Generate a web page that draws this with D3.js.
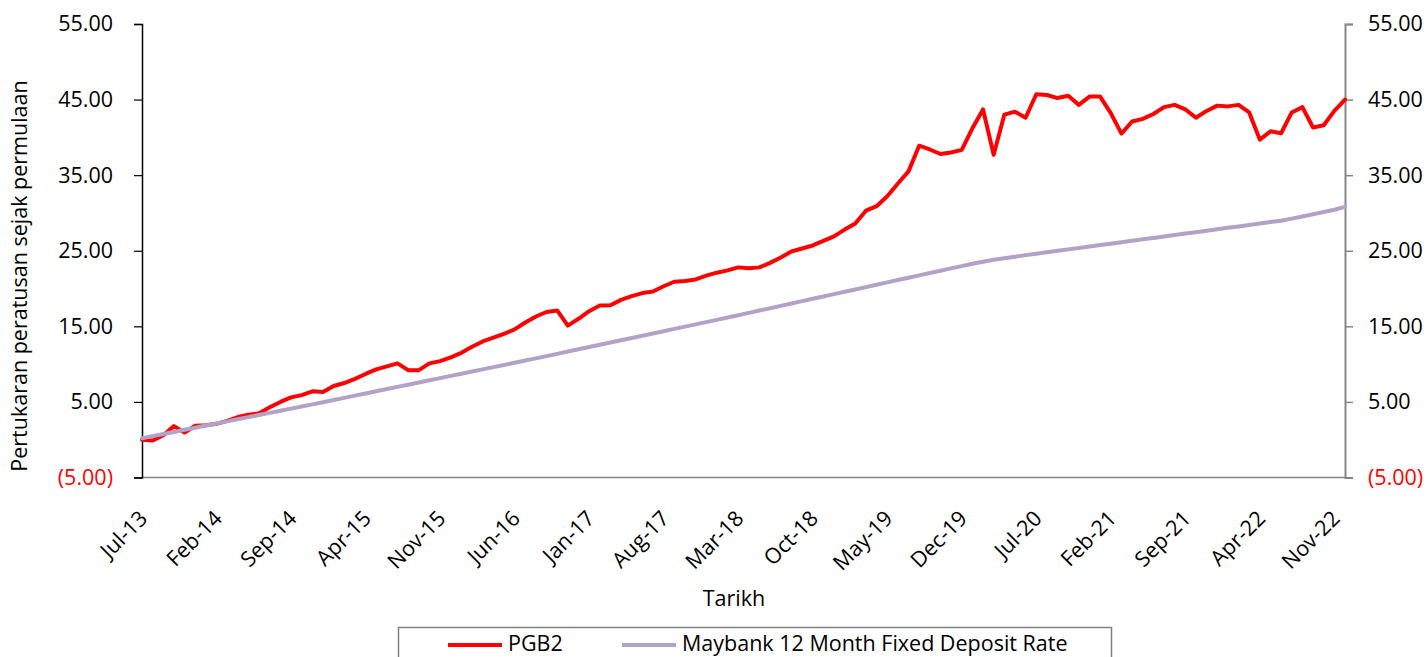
<!DOCTYPE html>
<html>
<head>
<meta charset="utf-8">
<script src="https://cdn.jsdelivr.net/npm/d3@7"></script>
<style>
  html, body { margin: 0; padding: 0; background: #fff; }
  svg { display: block; }
  text { font-family: "Open Sans", "Lato", sans-serif; }
</style>
</head>
<body>
<svg id="chart" width="1428" height="657"></svg>
<script>
const months = [
  "Jul-13","Aug-13","Sep-13","Oct-13","Nov-13","Dec-13",
  "Jan-14","Feb-14","Mar-14","Apr-14","May-14","Jun-14","Jul-14","Aug-14","Sep-14","Oct-14","Nov-14","Dec-14",
  "Jan-15","Feb-15","Mar-15","Apr-15","May-15","Jun-15","Jul-15","Aug-15","Sep-15","Oct-15","Nov-15","Dec-15",
  "Jan-16","Feb-16","Mar-16","Apr-16","May-16","Jun-16","Jul-16","Aug-16","Sep-16","Oct-16","Nov-16","Dec-16",
  "Jan-17","Feb-17","Mar-17","Apr-17","May-17","Jun-17","Jul-17","Aug-17","Sep-17","Oct-17","Nov-17","Dec-17",
  "Jan-18","Feb-18","Mar-18","Apr-18","May-18","Jun-18","Jul-18","Aug-18","Sep-18","Oct-18","Nov-18","Dec-18",
  "Jan-19","Feb-19","Mar-19","Apr-19","May-19","Jun-19","Jul-19","Aug-19","Sep-19","Oct-19","Nov-19","Dec-19",
  "Jan-20","Feb-20","Mar-20","Apr-20","May-20","Jun-20","Jul-20","Aug-20","Sep-20","Oct-20","Nov-20","Dec-20",
  "Jan-21","Feb-21","Mar-21","Apr-21","May-21","Jun-21","Jul-21","Aug-21","Sep-21","Oct-21","Nov-21","Dec-21",
  "Jan-22","Feb-22","Mar-22","Apr-22","May-22","Jun-22","Jul-22","Aug-22","Sep-22","Oct-22","Nov-22","Dec-22"
];

const tickLabels = ["Jul-13","Feb-14","Sep-14","Apr-15","Nov-15","Jun-16","Jan-17","Aug-17","Mar-18",
  "Oct-18","May-19","Dec-19","Jul-20","Feb-21","Sep-21","Apr-22","Nov-22"];

const yTicks = [-5, 5, 15, 25, 35, 45, 55];

const pgb2 = [
  0.0, -0.1, 0.6, 1.8, 0.95, 1.85,
  1.9, 2.1, 2.5, 3.0, 3.3, 3.5, 4.3, 5.0, 5.6, 5.9, 6.4, 6.3,
  7.1, 7.5, 8.05, 8.7, 9.3, 9.7, 10.1, 9.2, 9.2, 10.1, 10.4, 10.9,
  11.5, 12.3, 13.0, 13.5, 14.0, 14.6, 15.5, 16.3, 16.9, 17.1, 15.1, 16.0,
  17.0, 17.75, 17.8, 18.5, 19.0, 19.4, 19.6, 20.3, 20.9, 21.0, 21.2, 21.7,
  22.1, 22.4, 22.8, 22.7, 22.8, 23.4, 24.1, 24.9, 25.3, 25.7, 26.3, 26.9,
  27.8, 28.6, 30.3, 30.9, 32.2, 33.9, 35.5, 38.9, 38.4, 37.8, 38.0, 38.35,
  41.2, 43.7, 37.7, 43.0, 43.4, 42.6, 45.7, 45.6, 45.2, 45.5, 44.3, 45.4,
  45.4, 43.2, 40.5, 42.1, 42.45, 43.1, 44.0, 44.3, 43.7, 42.6, 43.5, 44.2,
  44.1, 44.3, 43.3, 39.7, 40.8, 40.55, 43.3, 44.0, 41.3, 41.6, 43.5, 45.0
];

const maybank = [
  0.20, 0.47, 0.75, 1.03, 1.31, 1.59,
  1.87, 2.15, 2.43, 2.71, 2.99, 3.27, 3.55, 3.83, 4.11, 4.39, 4.67, 4.96,
  5.25, 5.54, 5.83, 6.12, 6.41, 6.70, 6.99, 7.28, 7.57, 7.86, 8.15, 8.44,
  8.73, 9.02, 9.31, 9.60, 9.89, 10.18, 10.47, 10.76, 11.06, 11.36, 11.66, 11.96,
  12.26, 12.56, 12.86, 13.16, 13.46, 13.76, 14.06, 14.36, 14.66, 14.96, 15.26, 15.56,
  15.86, 16.16, 16.47, 16.78, 17.09, 17.40, 17.71, 18.02, 18.33, 18.64, 18.95, 19.26,
  19.57, 19.88, 20.19, 20.50, 20.81, 21.12, 21.43, 21.74, 22.05, 22.36, 22.67, 22.97,
  23.27, 23.55, 23.80, 24.02, 24.22, 24.42, 24.61, 24.80, 24.99, 25.18, 25.37, 25.56,
  25.75, 25.94, 26.13, 26.32, 26.51, 26.70, 26.89, 27.08, 27.27, 27.46, 27.65, 27.84,
  28.03, 28.22, 28.41, 28.60, 28.79, 28.98, 29.25, 29.53, 29.82, 30.12, 30.43, 30.80
];

const seriesNames = ["PGB2", "Maybank 12 Month Fixed Deposit Rate"];
const seriesColors = ["#FF0000", "#B3A2C7"];

const svg = d3.select("#chart");
const plotLeft = 142, plotRight = 1345, plotTop = 24, plotBottom = 477.5;
const FONT = "Open Sans";
const FS = 21.5;

const x = d3.scalePoint().domain(months).range([plotLeft, plotRight]);
const y = d3.scaleLinear().domain([-5, 55]).range([plotBottom, plotTop]);

const fmt = v => v < 0 ? "(" + Math.abs(v).toFixed(2) + ")" : v.toFixed(2);

// bottom axis line
svg.append("line")
  .attr("x1", plotLeft).attr("x2", plotRight)
  .attr("y1", plotBottom).attr("y2", plotBottom)
  .attr("stroke", "#868686").attr("stroke-width", 1.5);

// left axis
const gL = svg.append("g").attr("transform", `translate(${plotLeft},0)`)
  .call(d3.axisLeft(y).tickValues(yTicks).tickSize(8).tickPadding(21).tickFormat(fmt));
gL.select(".domain").attr("stroke", "#000").attr("stroke-width", 1.5);
gL.selectAll(".tick line").attr("stroke", "#000").attr("stroke-width", 1.2);
gL.selectAll(".tick text").attr("font-size", FS).attr("font-family", FONT)
  .attr("fill", d => d < 0 ? "#FF0000" : "#000");

// right axis
const gR = svg.append("g").attr("transform", `translate(${plotRight},0)`)
  .call(d3.axisRight(y).tickValues(yTicks).tickSize(8).tickPadding(15).tickFormat(fmt));
gR.select(".domain").attr("stroke", "#868686").attr("stroke-width", 2);
gR.selectAll(".tick line").attr("stroke", "#868686").attr("stroke-width", 1.5);
gR.selectAll(".tick text").attr("font-size", FS).attr("font-family", FONT)
  .attr("fill", d => d < 0 ? "#FF0000" : "#000");

// x tick labels
const gX = svg.append("g").attr("transform", `translate(0,${plotBottom})`)
  .call(d3.axisBottom(x).tickValues(tickLabels).tickSize(0));
gX.select(".domain").remove();
gX.selectAll(".tick text")
  .attr("font-size", FS).attr("font-family", FONT).attr("fill", "#000")
  .attr("text-anchor", "end")
  .attr("dy", "0.35em")
  .attr("transform", "translate(1,37) rotate(-45)")
  .attr("y", 0).attr("x", 0);

// lines
const line = d3.line().x((d, i) => x(months[i])).y(d => y(d)).curve(d3.curveLinear);
[pgb2, maybank].forEach((s, k) => {
  svg.append("path").datum(s)
    .attr("d", line)
    .attr("fill", "none")
    .attr("stroke", seriesColors[k])
    .attr("stroke-width", 4)
    .attr("stroke-linejoin", "round")
    .attr("stroke-linecap", "round");
});

// axis titles
svg.append("text")
  .attr("transform", "translate(27,276) rotate(-90)")
  .attr("text-anchor", "middle")
  .attr("font-size", FS).attr("fill", "#000")
  .text("Pertukaran peratusan sejak permulaan");

svg.append("text")
  .attr("x", 734).attr("y", 606)
  .attr("text-anchor", "middle")
  .attr("font-size", FS).attr("fill", "#000")
  .text("Tarikh");

// legend
const lg = svg.append("g");
lg.append("rect")
  .attr("x", 398.5).attr("y", 627.5).attr("width", 713).attr("height", 60)
  .attr("fill", "#fff").attr("stroke", "#7f7f7f").attr("stroke-width", 1.5);
const legendX = [448, 622];
seriesNames.forEach((n, k) => {
  lg.append("line")
    .attr("x1", legendX[k]).attr("x2", legendX[k] + 54)
    .attr("y1", 645).attr("y2", 645)
    .attr("stroke", seriesColors[k]).attr("stroke-width", 4);
  lg.append("text")
    .attr("x", legendX[k] + 60).attr("y", 651)
    .attr("font-size", FS).attr("fill", "#000")
    .text(n);
});
</script>
</body>
</html>
